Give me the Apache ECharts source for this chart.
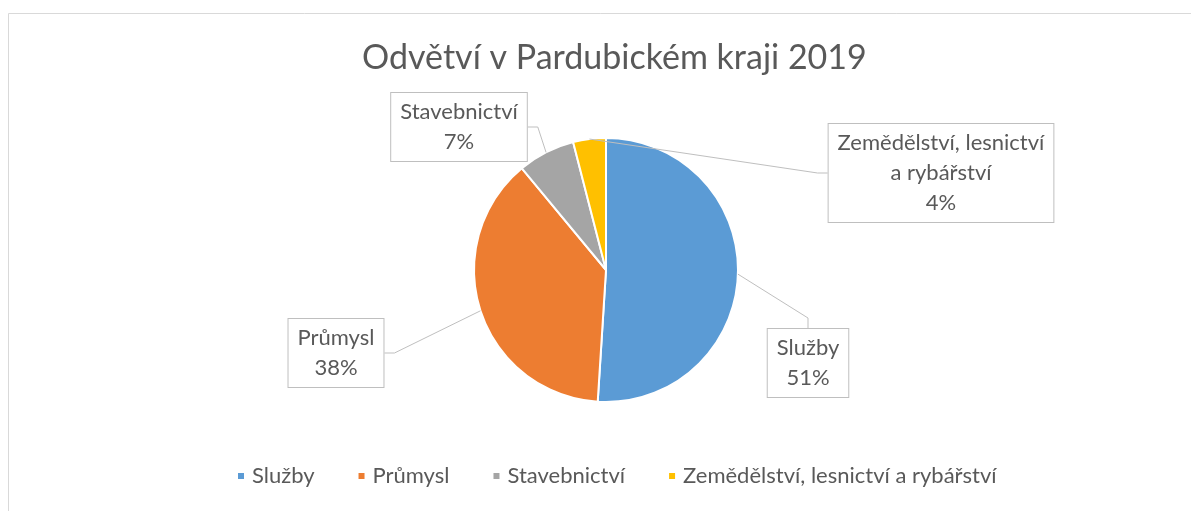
<!DOCTYPE html>
<html>
<head>
<meta charset="utf-8">
<script src="https://cdn.jsdelivr.net/npm/echarts@6/dist/echarts.min.js"></script>
<style>
html,body{margin:0;padding:0;background:#fff;}
#chart{width:1191px;height:511px;}
</style>
</head>
<body>
<div id="chart"></div>
<script>
var titleText = 'Odvětví v Pardubickém kraji 2019';
var categories = ['Služby', 'Průmysl', 'Stavebnictví', 'Zemědělství, lesnictví a rybářství'];
var labelNames = ['Služby', 'Průmysl', 'Stavebnictví', 'Zemědělství, lesnictví\na rybářství'];
var values = [51, 38, 7, 4];
var colors = ['#5B9BD5', '#ED7D31', '#A5A5A5', '#FFC000'];

// label box centres (layout only)
var labelPos = [[808, 363], [336, 353], [459, 127], [941, 173]];

var chart = echarts.init(document.getElementById('chart'));
var font = 'Lato, "Noto Sans", sans-serif';
chart.setOption({
  animation: false,
  backgroundColor: '#fff',
  color: colors,
  graphic: [{
    type: 'rect',
    shape: {x: 8.5, y: 13.5, width: 1200, height: 520},
    style: {fill: 'none', stroke: '#d9d9d9', lineWidth: 1},
    silent: true,
    z: -1
  }],
  title: {
    text: titleText,
    left: 357,
    top: 36,
    textStyle: {fontFamily: font, fontSize: 34, fontWeight: 'normal', color: '#595959'}
  },
  legend: {
    data: categories,
    bottom: 19,
    left: 231,
    icon: 'rect',
    itemWidth: 8,
    itemHeight: 8,
    itemGap: 42,
    textStyle: {fontFamily: font, fontSize: 22, color: '#595959', padding: [0, 0, 0, 2]}
  },
  series: [{
    type: 'pie',
    center: [606, 270],
    radius: [0, 132],
    startAngle: 90,
    clockwise: true,
    itemStyle: {borderColor: '#fff', borderWidth: 2},
    label: {
      show: true,
      position: 'outside',
      formatter: function (p) { return labelNames[p.dataIndex] + '\n' + p.percent + '%'; },
      fontFamily: font,
      fontSize: 22,
      lineHeight: 30,
      color: '#595959',
      align: 'center',
      backgroundColor: '#fff',
      borderColor: '#bfbfbf',
      borderWidth: 1,
      padding: [4, 9]
    },
    labelLine: {
      show: true,
      showAbove: true,
      length: 10,
      length2: 10,
      lineStyle: {color: '#bfbfbf', width: 1}
    },
    labelLayout: function (p) {
      var c = labelPos[p.dataIndex];
      return {x: c[0], y: c[1], align: 'center', verticalAlign: 'middle'};
    },
    data: categories.map(function (c, i) { return {name: c, value: values[i]}; })
  }]
});
</script>
</body>
</html>
